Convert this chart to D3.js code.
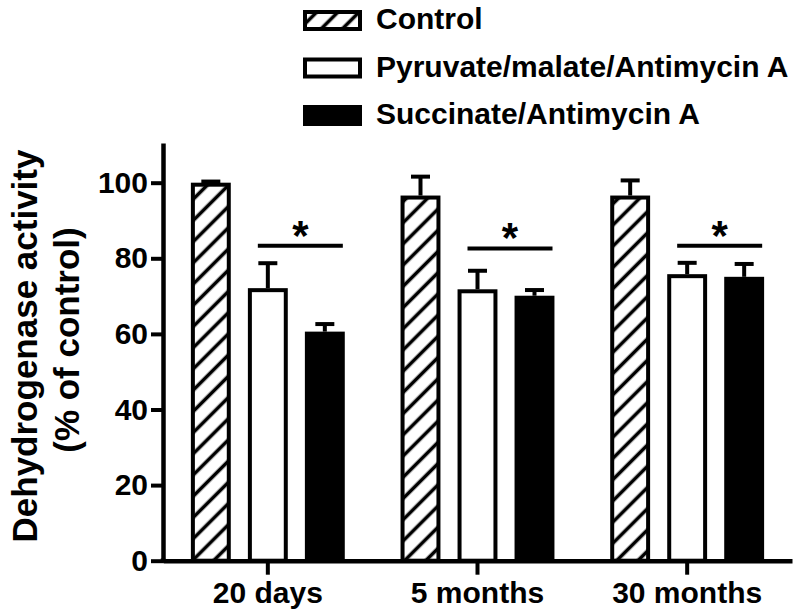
<!DOCTYPE html>
<html>
<head>
<meta charset="utf-8">
<script src="https://cdn.jsdelivr.net/npm/d3@7"></script>
<style>
  html, body { margin: 0; padding: 0; background: #fff; }
  svg { display: block; font-family: "Liberation Sans", Arial, Helvetica, sans-serif; font-weight: bold; }
</style>
</head>
<body>
<svg id="chart" width="800" height="616"></svg>
<script>
// ---- data ----
const categories = ["20 days", "5 months", "30 months"];
const seriesNames = ["Control", "Pyruvate/malate/Antimycin A", "Succinate/Antimycin A"];
const controlMean = [100, 96.6, 96.6];
const controlSem = [0.3, 5.0, 4.0];
const pyruvateMean = [72.1, 71.8, 75.8];
const pyruvateSem = [6.6, 4.9, 3.0];
const succinateMean = [60.6, 70.1, 75.1];
const succinateSem = [2.0, 1.5, 3.4];
const sigLevel = [83.3, 82.6, 83.3];
const sigLabel = ["*", "*", "*"];
const yTicks = [0, 20, 40, 60, 80, 100];
const yLabelLines = ["Dehydrogenase activity", "(% of control)"];

// ---- layout ----
const svg = d3.select("#chart");
const x0 = 163, x1 = 792, yBottom = 560.7, yTop = 143;

const x = d3.scaleBand().domain(categories).range([x0, x1]).padding(0);
const xInner = d3.scaleBand().domain(seriesNames).range([-76.95, 76.95]).paddingInner(0.3).paddingOuter(0);
const y = d3.scaleLinear().domain([0, 110.5]).range([yBottom, yTop]);

const defs = svg.append("defs");
const pat = defs.append("pattern")
  .attr("id", "hatch").attr("patternUnits", "userSpaceOnUse")
  .attr("width", 15).attr("height", 15)
  .attr("patternTransform", "rotate(45)");
pat.append("rect").attr("width", 15).attr("height", 15).attr("fill", "#fff");
pat.append("line").attr("x1", 7.5).attr("x2", 7.5).attr("y1", -1).attr("y2", 16)
  .attr("stroke", "#000").attr("stroke-width", 3.6);

const fills = {
  "Control": "url(#hatch)",
  "Pyruvate/malate/Antimycin A": "#fff",
  "Succinate/Antimycin A": "#000"
};

const rows = [];
categories.forEach((c, i) => {
  rows.push({cat: c, s: seriesNames[0], mean: controlMean[i], sem: controlSem[i]});
  rows.push({cat: c, s: seriesNames[1], mean: pyruvateMean[i], sem: pyruvateSem[i]});
  rows.push({cat: c, s: seriesNames[2], mean: succinateMean[i], sem: succinateSem[i]});
});
const cx = d => x(d.cat) + x.bandwidth() / 2 + xInner(d.s) + xInner.bandwidth() / 2;

const sw = 4;
// error bars (upper only)
const eb = svg.append("g").attr("stroke", "#000").attr("stroke-width", sw);
eb.selectAll("line.v").data(rows).join("line").attr("class", "v")
  .attr("x1", cx).attr("x2", cx)
  .attr("y1", d => y(d.mean)).attr("y2", d => y(d.mean + d.sem));
eb.selectAll("line.c").data(rows).join("line").attr("class", "c")
  .attr("x1", d => cx(d) - 9.5).attr("x2", d => cx(d) + 9.5)
  .attr("y1", d => y(d.mean + d.sem)).attr("y2", d => y(d.mean + d.sem));

// bars
svg.append("g").selectAll("rect").data(rows).join("rect")
  .attr("x", d => cx(d) - xInner.bandwidth() / 2 + sw / 2)
  .attr("width", xInner.bandwidth() - sw)
  .attr("y", d => y(d.mean) + sw / 2)
  .attr("height", d => y(0) - y(d.mean) - sw / 2)
  .attr("fill", d => fills[d.s])
  .attr("stroke", "#000").attr("stroke-width", sw);

// significance lines
const sig = svg.append("g");
categories.forEach((c, i) => {
  const c1 = x(c) + x.bandwidth() / 2 + xInner(seriesNames[1]) + xInner.bandwidth() / 2 - 10;
  const c2 = x(c) + x.bandwidth() / 2 + xInner(seriesNames[2]) + xInner.bandwidth() / 2 + 18;
  sig.append("line").attr("x1", c1).attr("x2", c2)
    .attr("y1", y(sigLevel[i])).attr("y2", y(sigLevel[i]))
    .attr("stroke", "#000").attr("stroke-width", 4);
  sig.append("text").attr("x", (c1 + c2) / 2).attr("y", y(sigLevel[i]) + 4)
    .attr("text-anchor", "middle").attr("font-size", 42).text(sigLabel[i]);
});

// axes
const yAxis = svg.append("g").attr("transform", `translate(${x0},0)`)
  .call(d3.axisLeft(y).tickValues(yTicks).tickSize(12).tickSizeOuter(0).tickPadding(3));
yAxis.select(".domain").style("stroke", "#000").style("stroke-width", "4.5px");
yAxis.selectAll(".tick line").style("stroke", "#000").style("stroke-width", "4px");
yAxis.selectAll("text").attr("font-size", 30).attr("font-weight", "bold").attr("fill", "#000")
  .attr("font-family", "Liberation Sans, Arial, sans-serif");

const xAxis = svg.append("g").attr("transform", `translate(0,${yBottom})`)
  .call(d3.axisBottom(x).tickSize(14).tickSizeOuter(0).tickPadding(7));
xAxis.select(".domain").style("stroke", "#000").style("stroke-width", "4.5px");
xAxis.selectAll(".tick line").style("stroke", "#000").style("stroke-width", "4px");
xAxis.selectAll("text").attr("font-size", 30).attr("font-weight", "bold").attr("fill", "#000")
  .attr("font-family", "Liberation Sans, Arial, sans-serif");

// corner join
svg.append("rect").attr("x", x0 - 2.25).attr("y", yBottom - 2.25).attr("width", 4.5).attr("height", 4.5).attr("fill", "#000");

// y label
const yl = svg.append("text").attr("font-size", 35).attr("text-anchor", "middle");
yl.append("tspan").attr("x", -346).attr("y", 37).text(yLabelLines[0]);
yl.append("tspan").attr("x", -340).attr("y", 79).text(yLabelLines[1]);
yl.attr("transform", "rotate(-90)");

// legend
const leg = svg.append("g");
seriesNames.forEach((s, i) => {
  const top = 10 + i * 47.5;
  leg.append("rect").attr("x", 305).attr("y", top + 2).attr("width", 55).attr("height", 17)
    .attr("fill", fills[s]).attr("stroke", "#000").attr("stroke-width", 4);
  leg.append("text").attr("x", 376).attr("y", top + 19).attr("font-size", 30).text(s);
});
</script>
</body>
</html>
